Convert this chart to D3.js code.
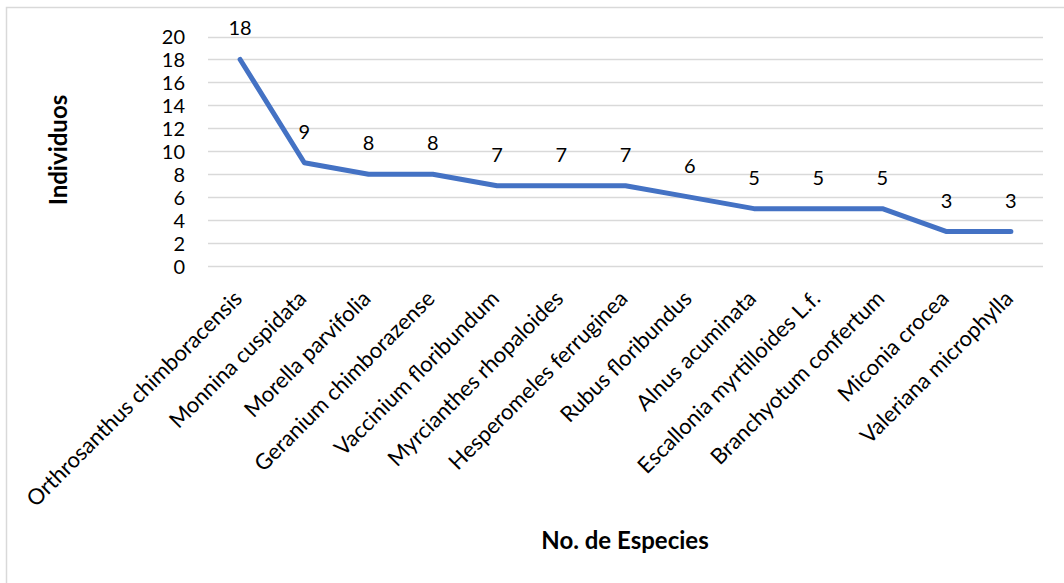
<!DOCTYPE html>
<html>
<head>
<meta charset="utf-8">
<script src="https://cdn.jsdelivr.net/npm/d3@7"></script>
<style>
  html, body { margin: 0; padding: 0; background: #fff; }
  svg { display: block; }
  text { font-family: Lato, "Open Sans", sans-serif; fill: #000; }
</style>
</head>
<body>
<svg id="chart" width="1064" height="583"></svg>
<script>
// Species names along the x axis
const species = [
  "Orthrosanthus chimboracensis",
  "Monnina cuspidata",
  "Morella parvifolia",
  "Geranium chimborazense",
  "Vaccinium floribundum",
  "Myrcianthes rhopaloides",
  "Hesperomeles ferruginea",
  "Rubus floribundus",
  "Alnus acuminata",
  "Escallonia myrtilloides L.f.",
  "Branchyotum confertum",
  "Miconia crocea",
  "Valeriana microphylla"
];
// Number of individuals per species
const individuos = [18, 9, 8, 8, 7, 7, 7, 6, 5, 5, 5, 3, 3];
// Y axis ticks
const yTicks = [0, 2, 4, 6, 8, 10, 12, 14, 16, 18, 20];

const svg = d3.select("#chart");

// Chart frame
svg.append("rect")
  .attr("x", 6.5).attr("y", 7.5)
  .attr("width", 1070).attr("height", 590)
  .attr("fill", "#fff")
  .attr("stroke", "#d9d9d9").attr("stroke-width", 1.5);

const plot = { left: 208, right: 1043, top: 36.5, bottom: 266 };

const x = d3.scalePoint()
  .domain(species)
  .range([plot.left, plot.right])
  .padding(0.5);

const y = d3.scaleLinear()
  .domain([0, 20])
  .range([plot.bottom, plot.top]);

// Horizontal gridlines
svg.append("g")
  .selectAll("line")
  .data(yTicks)
  .join("line")
  .attr("x1", plot.left).attr("x2", plot.right)
  .attr("y1", d => Math.round(y(d)) + 0.5)
  .attr("y2", d => Math.round(y(d)) + 0.5)
  .attr("stroke", "#d9d9d9").attr("stroke-width", 1.5);

// Y axis tick labels
const yAxis = d3.axisLeft(y).tickValues(yTicks).tickSize(0).tickPadding(0);
const gy = svg.append("g")
  .attr("transform", `translate(${185},0)`)
  .call(yAxis);
gy.select(".domain").remove();
gy.selectAll("text")
  .attr("font-family", "Lato, sans-serif")
  .attr("font-size", 20)
  .attr("fill", "#000")
  .attr("dy", "0.36em");

// X axis category labels, rotated
const xAxis = d3.axisBottom(x).tickSize(0).tickPadding(0);
const gx = svg.append("g")
  .attr("transform", `translate(0,${plot.bottom})`)
  .call(xAxis);
gx.select(".domain").remove();
gx.selectAll("text")
  .attr("font-family", "Lato, sans-serif")
  .attr("font-size", 22)
  .attr("fill", "#000")
  .attr("text-anchor", "end")
  .attr("dy", null)
  .attr("y", 0)
  .attr("transform", "translate(3,34) rotate(-45)");

// Data line
const line = d3.line()
  .x((d, i) => x(species[i]))
  .y(d => y(d));

svg.append("path")
  .datum(individuos)
  .attr("d", line)
  .attr("fill", "none")
  .attr("stroke", "#4472c4")
  .attr("stroke-width", 5)
  .attr("stroke-linejoin", "round")
  .attr("stroke-linecap", "round");

// Value labels above each point
svg.append("g")
  .selectAll("text")
  .data(individuos)
  .join("text")
  .attr("x", (d, i) => x(species[i]))
  .attr("y", d => y(d) - 24)
  .attr("text-anchor", "middle")
  .attr("font-size", 20)
  .text(d => d);

// Axis titles
svg.append("text")
  .attr("transform", `translate(67,150) rotate(-90)`)
  .attr("text-anchor", "middle")
  .attr("font-size", 24)
  .attr("font-weight", "bold")
  .text("Individuos");

svg.append("text")
  .attr("x", 625).attr("y", 549)
  .attr("text-anchor", "middle")
  .attr("font-size", 24)
  .attr("font-weight", "bold")
  .text("No. de Especies");
</script>
</body>
</html>
